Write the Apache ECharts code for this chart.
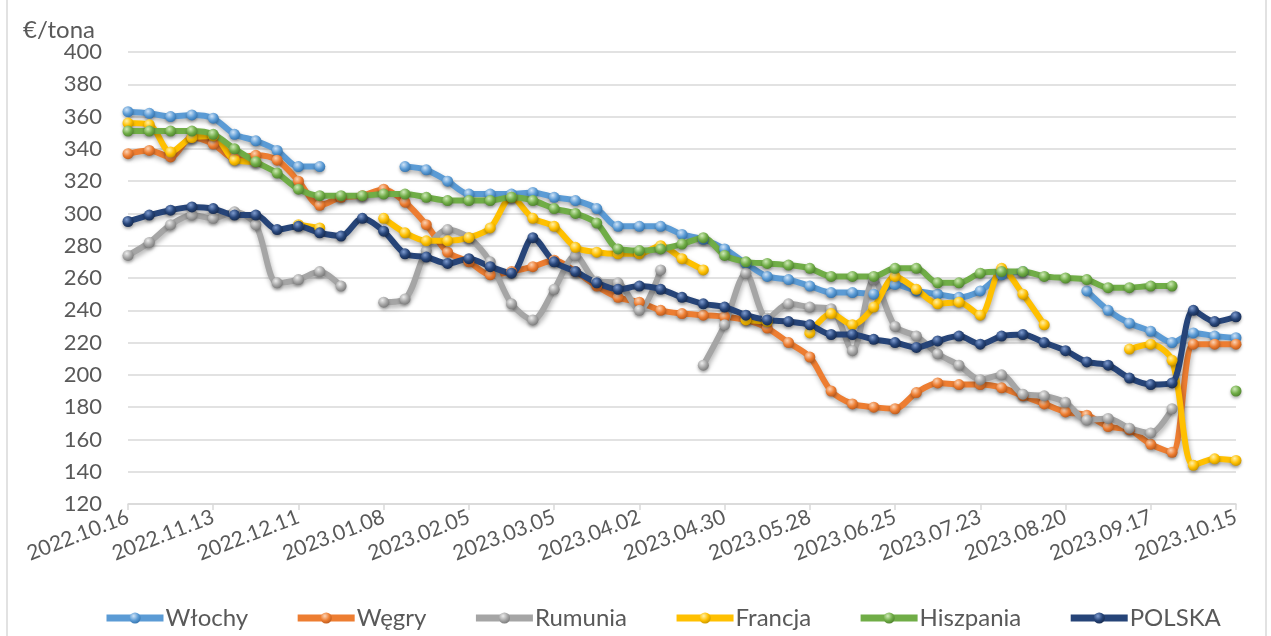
<!DOCTYPE html>
<html>
<head>
<meta charset="utf-8">
<script src="https://cdn.jsdelivr.net/npm/echarts@6/dist/echarts.min.js"></script>
<style>
  html, body { margin: 0; padding: 0; background: #fff; }
  #chart { width: 1271px; height: 636px; }
</style>
</head>
<body>
<div id="chart"></div>
<script>
var weeks = [
  '2022.10.16', '2022.10.23', '2022.10.30', '2022.11.06', '2022.11.13', '2022.11.20', '2022.11.27',
  '2022.12.04', '2022.12.11', '2022.12.18', '2022.12.25', '2023.01.01', '2023.01.08', '2023.01.15',
  '2023.01.22', '2023.01.29', '2023.02.05', '2023.02.12', '2023.02.19', '2023.02.26', '2023.03.05',
  '2023.03.12', '2023.03.19', '2023.03.26', '2023.04.02', '2023.04.09', '2023.04.16', '2023.04.23',
  '2023.04.30', '2023.05.07', '2023.05.14', '2023.05.21', '2023.05.28', '2023.06.04', '2023.06.11',
  '2023.06.18', '2023.06.25', '2023.07.02', '2023.07.09', '2023.07.16', '2023.07.23', '2023.07.30',
  '2023.08.06', '2023.08.13', '2023.08.20', '2023.08.27', '2023.09.03', '2023.09.10', '2023.09.17',
  '2023.09.24', '2023.10.01', '2023.10.08', '2023.10.15'
]

var wlochy = [363, 362, 360, 361, 359, 349, 345, 339, 329, 329, null, null, null, 329, 327, 320, 312, 312, 312, 313,
  310, 308, 303, 292, 292, 292, 287, 284, 278, 269, 261, 259, 255, 251, 251, 250, 256, 252, 250, 248,
  252, 262, 264, null, null, 252, 240, 232, 227, 220, 226, 224, 223]
var wegry = [337, 339, 335, 347, 343, 334, 336, 333, 320, 305, 310, 311, 315, 307, 293, 276, 270, 262, 264, 267,
  271, 264, 255, 248, 245, 240, 238, 237, 236, 234, 229, 220, 211, 190, 182, 180, 179, 189, 195, 194,
  194, 192, 187, 182, 177, 175, 168, 166, 157, 152, 219, 219, 219]
var rumunia = [274, 282, 293, 299, 297, 301, 293, 257, 259, 264, 255, null, 245, 247, 277, 290, 285, 270, 244, 234,
  253, 274, 258, 257, 240, 265, null, 206, 231, 263, 235, 244, 242, 241, 215, 259, 230, 224, 213, 206,
  197, 200, 188, 187, 183, 172, 173, 167, 164, 179, null, null, null]
var francja = [356, 355, 338, 347, 348, 333, 332, null, 293, 291, null, null, 297, 288, 283, 283, 285, 291, 310, 297,
  292, 279, 276, 275, 275, 280, 272, 265, null, 234, 233, null, 226, 238, 231, 242, 261, 253, 244, 245,
  237, 266, 250, 231, null, null, null, 216, 219, 209, 144, 148, 147]
var hiszpania = [351, 351, 351, 351, 349, 340, 332, 325, 315, 311, 311, 311, 312, 312, 310, 308, 308, 308, 310, 308,
  303, 300, 294, 278, 277, 278, 281, 285, 274, 270, 269, 268, 266, 261, 261, 261, 266, 266, 257, 257,
  263, 264, 264, 261, 260, 259, 254, 254, 255, 255, null, null, 190]
var polska = [295, 299, 302, 304, 303, 299, 299, 290, 292, 288, 286, 297, 289, 275, 273, 269, 272, 267, 263, 285,
  270, 264, 257, 253, 255, 253, 248, 244, 242, 237, 234, 233, 231, 225, 225, 222, 220, 217, 221, 224,
  219, 224, 225, 220, 215, 208, 206, 198, 194, 195, 240, 233, 236]

var seriesList = [
  { name: 'Włochy', data: wlochy, color: '#5B9BD5', light: '#cfe3f7', dark: '#2f6ea8' },
  { name: 'Węgry', data: wegry, color: '#ED7D31', light: '#fbd3b5', dark: '#b4561a' },
  { name: 'Rumunia', data: rumunia, color: '#A5A5A5', light: '#ececec', dark: '#747474' },
  { name: 'Francja', data: francja, color: '#FFC000', light: '#fff0a8', dark: '#c08f00' },
  { name: 'Hiszpania', data: hiszpania, color: '#70AD47', light: '#cfeab8', dark: '#4a7d2a' },
  { name: 'POLSKA', data: polska, color: '#264478', light: '#7f9cd0', dark: '#15284a' }
]

var fontFamily = 'Lato, "Open Sans", sans-serif'
var textColor = '#595959'

function sphere (s) {
  return {
    type: 'radial',
    x: 0.38,
    y: 0.32,
    r: 0.75,
    colorStops: [
      { offset: 0, color: s.light },
      { offset: 0.55, color: s.color },
      { offset: 1, color: s.dark }
    ]
  }
}

var chart = echarts.init(document.getElementById('chart'))

var option = {
  animation: false,
  title: {
    text: '€/tona',
    left: 18,
    top: 13,
    textStyle: { color: textColor, fontFamily: fontFamily, fontSize: 24, fontWeight: 'normal' }
  },
  grid: {
    left: 128,
    right: 35,
    top: 52,
    bottom: 132
  },
  legend: {
    bottom: 1,
    left: 98,
    itemWidth: 57,
    itemHeight: 14,
    itemGap: 46,
    lineStyle: { width: 7 },
    textStyle: { color: textColor, fontFamily: fontFamily, fontSize: 24, padding: [0, 0, 0, -3] },
    data: seriesList.map(function (s) { return s.name })
  },
  xAxis: {
    type: 'category',
    boundaryGap: false,
    data: weeks,
    axisLine: { lineStyle: { color: '#D9D9D9', width: 1.5 } },
    axisTick: { show: true, interval: 3, length: 6, lineStyle: { color: '#D9D9D9', width: 1.5 } },
    axisLabel: {
      interval: 3,
      rotate: 21,
      margin: 12,
      color: textColor,
      fontFamily: fontFamily,
      fontSize: 21
    },
    splitLine: { show: false }
  },
  yAxis: {
    type: 'value',
    min: 120,
    max: 400,
    interval: 20,
    axisLine: { show: false },
    axisTick: { show: false },
    axisLabel: { color: textColor, fontFamily: fontFamily, fontSize: 22, margin: 26 },
    splitLine: { lineStyle: { color: '#D9D9D9', width: 1.5 } }
  },
  graphic: [
    { type: 'line', shape: { x1: 7, y1: 0, x2: 7, y2: 636 }, style: { stroke: '#D9D9D9', lineWidth: 1.5 } },
    { type: 'line', shape: { x1: 1266, y1: 0, x2: 1266, y2: 636 }, style: { stroke: '#D9D9D9', lineWidth: 1.5 } }
  ],
  series: seriesList.map(function (s) {
    return {
      name: s.name,
      type: 'line',
      data: s.data,
      smooth: 0.3,
      connectNulls: false,
      symbol: 'circle',
      symbolSize: 11,
      showAllSymbol: true,
      color: s.color,
      lineStyle: {
        color: s.color,
        width: 6,
        shadowColor: 'rgba(0, 0, 0, 0.3)',
        shadowBlur: 5,
        shadowOffsetX: 1,
        shadowOffsetY: 3
      },
      itemStyle: {
        color: sphere(s),
        borderWidth: 0,
        shadowColor: 'rgba(0, 0, 0, 0.3)',
        shadowBlur: 3,
        shadowOffsetY: 2
      },
      emphasis: { disabled: true }
    }
  })
}

chart.setOption(option)
</script>
</body>
</html>
